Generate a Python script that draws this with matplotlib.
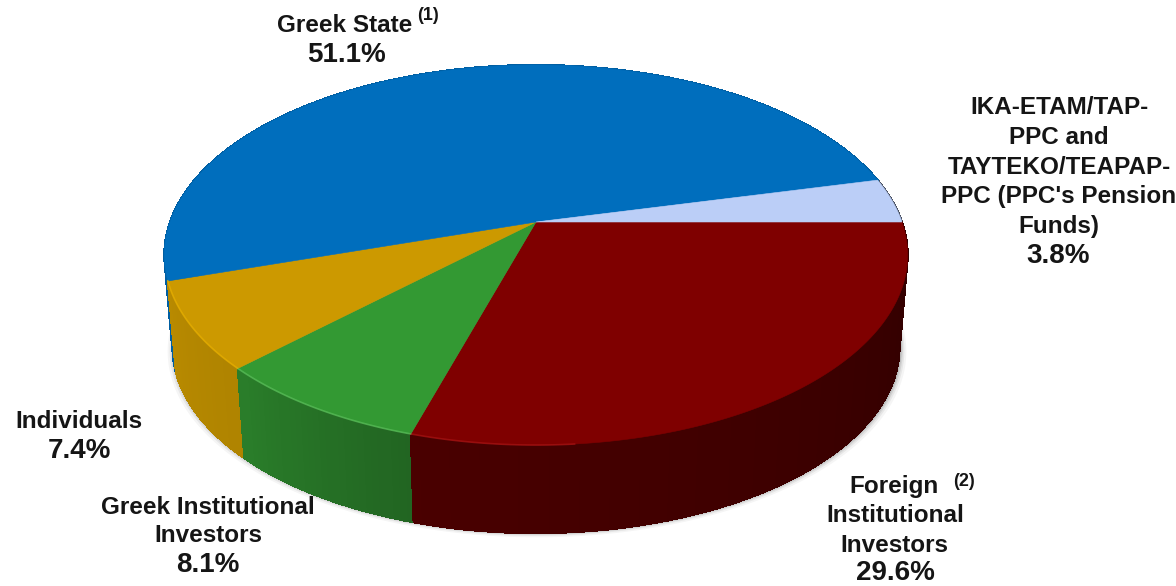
"""
Shareholder structure drawn as a tilted 3D pie.
"""
import numpy as np
import matplotlib
matplotlib.use('Agg')
import matplotlib.pyplot as plt
from matplotlib.collections import PolyCollection
from matplotlib.colors import to_rgb

# slices clockwise from the right hand edge of the disc
slices = ['Foreign', 'Greek Institutional', 'Individuals', 'Greek State', 'Pension Funds']
shares = [29.6, 8.1, 7.4, 51.1, 3.8]

top_colors = ['#7f0000', '#339933', '#cc9900', '#006ebd', '#bbcef7']
# brightness of the side wall at the start and end of each slice
wall_shades = [(0.38, 0.58), (0.66, 0.82), (0.86, 0.90), (0.85, 0.85), (0.38, 0.38)]
# lighter rim on the front edge: colour and how far it runs, in degrees
rim_colors = ['#a81414', '#5cbf5c', '#e8b000', None, None]
rim_limits = [(-85, -106.6), (-106.6, -135.8), (-135.8, -162.4), None, None]

# text lines of each label: (line, x centre, y centre)
greek_state_lines = [('Greek State', 345, 26)]
pension_lines = [('IKA-ETAM/TAP-', 1059, 108), ('PPC and', 1059, 137),
                 ('TAYTEKO/TEAPAP-', 1059, 167), ('PPC (PPC\'s Pension', 1059, 197),
                 ('Funds)', 1059, 227)]
individuals_lines = [('Individuals', 79, 422)]
institutional_lines = [('Greek Institutional', 208, 507), ('Investors', 208, 535)]
foreign_lines = [('Foreign', 894, 487), ('Institutional', 895, 515), ('Investors', 894, 545)]

# where the percentages go, one per slice
percent_pos = [(895, 573), (208, 565), (79, 451), (347, 55), (1058, 256)]
notes = [('(1)', 428, 15), ('(2)', 964, 481)]

# perspective of the disc: x, y of the centre, half sizes and tilt
CX, CY, BX, BY, TILT = 536, 222, 366, 184.3, 0.1737
DROP_Y, DROP_SCALE = 93, 0.978
FONT = ['Liberation Sans', 'DejaVu Sans']


def project(angle, radius=1.0, floor=False):
    """Disc position (degrees, radius) to figure pixels."""
    u = radius * np.cos(np.radians(angle))
    v = radius * np.sin(np.radians(angle))
    w = 1 + TILT * v
    scale = DROP_SCALE if floor else 1.0
    cy = CY + DROP_Y if floor else CY
    return CX + scale * BX * u / w, cy - scale * BY * v / w


def arc(a0, a1, floor=False):
    n = max(int(abs(a1 - a0) * 2), 2)
    return project(np.linspace(a0, a1, n), floor=floor)


fig = plt.figure(figsize=(11.76, 5.86), dpi=100)
ax = fig.add_axes([0, 0, 1, 1])
ax.set_xlim(0, 1176)
ax.set_ylim(586, 0)
ax.axis('off')

# slice limits, going clockwise from 0 degrees
stops = -np.cumsum([0] + shares) * 3.6

# soft shadow under the floor of the disc
fx, fy = arc(0, -360, floor=True)
for grow, alpha in zip([6, 4, 2.5, 1.2], [0.04, 0.06, 0.08, 0.12]):
    ax.fill(fx + (fx - CX) * grow / 370 + 1, fy + grow * 0.7, color='black', alpha=alpha, lw=0, zorder=1)

# side walls, cut in narrow strips so the shade can run along them
for i in range(len(shares) - 1, -1, -1):
    a0, a1 = stops[i], stops[i + 1]
    edges = np.linspace(a0, a1, max(int(abs(a1 - a0)), 2) + 1)
    quads, colors = [], []
    for j in range(len(edges) - 1):
        tx, ty = arc(edges[j], edges[j + 1])
        bx, by = arc(edges[j], edges[j + 1], floor=True)
        quads.append(np.column_stack([np.r_[tx, bx[::-1]], np.r_[ty, by[::-1]]]))
        t = j / max(len(edges) - 2, 1)
        shade = wall_shades[i][0] + (wall_shades[i][1] - wall_shades[i][0]) * t
        colors.append(tuple(c * shade for c in to_rgb(top_colors[i])))
    ax.add_collection(PolyCollection(quads, facecolors=colors, edgecolors=colors, linewidths=0.8,
                                     antialiased=False, zorder=2 + (len(shares) - i) * 0.01))

# top face
for i in range(len(shares)):
    x, y = arc(stops[i], stops[i + 1])
    ax.fill(np.r_[CX, x], np.r_[CY, y], color=top_colors[i], lw=0.4, zorder=3)
    if rim_colors[i]:
        rx, ry = arc(*rim_limits[i])
        ax.plot(rx, ry, color=rim_colors[i], lw=1.2, alpha=0.7, zorder=4)

# labels
for lines in [greek_state_lines, pension_lines, individuals_lines, institutional_lines, foreign_lines]:
    for text, x, y in lines:
        ax.text(x, y, text, ha='center', va='center', fontsize=17.5, fontweight='bold',
                family=FONT, color='#151515', zorder=5)
for share, (x, y) in zip(shares, percent_pos):
    ax.text(x, y, '%.1f%%' % share, ha='center', va='center', fontsize=20, fontweight='bold',
            family=FONT, color='#151515', zorder=5)
for text, x, y in notes:
    ax.text(x, y, text, ha='center', va='center', fontsize=13, fontweight='bold',
            family=FONT, color='#151515', zorder=5)

fig.savefig('out.png', dpi=100, facecolor='white')
